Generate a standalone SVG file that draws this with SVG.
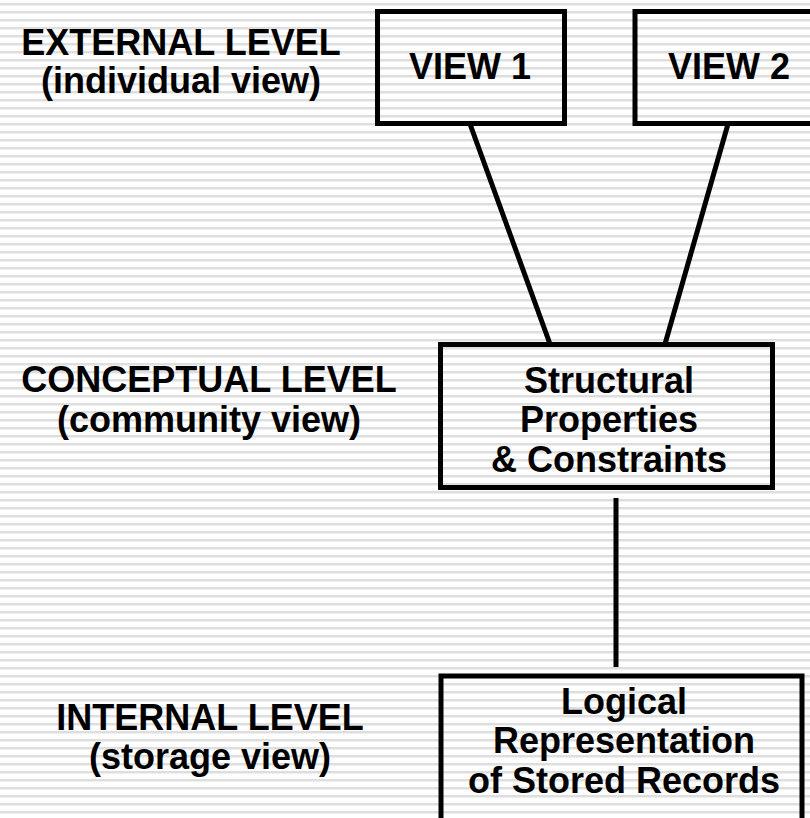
<svg xmlns="http://www.w3.org/2000/svg" width="810" height="818" viewBox="0 0 810 818">
  <defs>
    <!-- faint horizontal ruling behind everything -->
    <pattern id="ruling" x="0" y="0" width="8" height="8" patternUnits="userSpaceOnUse">
      <rect x="0" y="0" width="8" height="8" fill="#ffffff"/>
      <rect x="0" y="3" width="8" height="2" fill="#dedede"/>
      <rect x="0" y="5" width="8" height="1" fill="#efefef"/>
    </pattern>
  </defs>
  <style>
    .box { fill: none; stroke: #000; stroke-width: 5; }
    .link { stroke: #000; stroke-width: 5; fill: none; }
    text { font-family: "Liberation Sans", Arial, Helvetica, sans-serif; font-weight: bold; font-size: 36px; fill: #000; text-anchor: middle; }
  </style>

  <rect x="0" y="0" width="810" height="818" fill="url(#ruling)"/>

  <!-- level captions -->
  <g id="external-level">
    <text x="181" y="55">EXTERNAL LEVEL</text>
    <text x="181" y="93">(individual view)</text>
  </g>
  <g id="conceptual-level">
    <text x="209" y="392">CONCEPTUAL LEVEL</text>
    <text x="209" y="432">(community view)</text>
  </g>
  <g id="internal-level">
    <text x="210" y="730">INTERNAL LEVEL</text>
    <text x="210" y="769">(storage view)</text>
  </g>

  <!-- connectors -->
  <g id="connectors">
    <line class="link" x1="470" y1="124" x2="550" y2="344"/>
    <line class="link" x1="728" y1="124" x2="665" y2="344"/>
    <line class="link" x1="616" y1="498" x2="616" y2="667"/>
  </g>

  <!-- schema boxes -->
  <g id="view1">
    <rect class="box" x="377.5" y="11.5" width="187" height="112"/>
    <text x="470" y="79">VIEW 1</text>
  </g>
  <g id="view2">
    <rect class="box" x="635" y="11.5" width="200" height="112"/>
    <text x="729" y="79">VIEW 2</text>
  </g>
  <g id="conceptual-schema">
    <rect class="box" x="440.5" y="344.5" width="332" height="143"/>
    <text x="609" y="393">Structural</text>
    <text x="609" y="432">Properties</text>
    <text x="609" y="472">&amp; Constraints</text>
  </g>
  <g id="internal-schema">
    <rect class="box" x="441" y="676" width="361" height="160"/>
    <text x="624" y="714">Logical</text>
    <text x="624" y="753">Representation</text>
    <text x="624" y="793">of Stored Records</text>
  </g>
</svg>
